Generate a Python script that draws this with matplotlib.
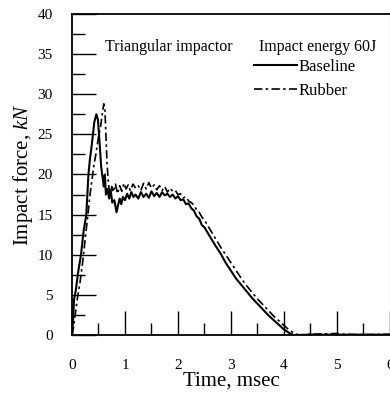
import matplotlib
matplotlib.use("Agg")
import matplotlib.pyplot as plt
from matplotlib.ticker import MultipleLocator

plt.rcParams['font.family'] = ['Liberation Serif', 'DejaVu Serif']
plt.rcParams['mathtext.fontset'] = 'custom'
plt.rcParams['mathtext.rm'] = 'Liberation Serif'
plt.rcParams['mathtext.it'] = 'Liberation Serif:italic'

# Baseline impact force curve (time in msec, force in kN)
t_base = [0, 0.02, 0.04, 0.07, 0.12, 0.17, 0.22, 0.27, 0.31, 0.34, 0.37, 0.42,
          0.46, 0.49, 0.52, 0.55, 0.58, 0.60, 0.62, 0.64, 0.67, 0.70, 0.73, 0.76,
          0.80, 0.84, 0.87, 0.90, 0.93, 0.96, 1.00, 1.04, 1.08, 1.12, 1.16, 1.20,
          1.25, 1.30, 1.35, 1.40, 1.45, 1.50, 1.55, 1.60, 1.65, 1.70, 1.75, 1.80,
          1.85, 1.90, 1.95, 2.00, 2.05, 2.10, 2.15, 2.20, 2.25, 2.30, 2.35, 2.40,
          2.45, 2.50, 2.60, 2.70, 2.80, 2.90, 3.00, 3.10, 3.20, 3.30, 3.40, 3.50,
          3.60, 3.70, 3.80, 3.90, 4.00, 4.10, 4.18, 4.5, 5.0, 5.5, 6.0]
f_base = [0, 2, 4.5, 5.5, 8, 10, 13, 15, 20, 22, 23.5, 26.5,
          27.5, 26.8, 24, 21, 19.5, 18.5, 20, 17.5, 18.2, 17, 18, 16.5,
          16.8, 15.3, 16.2, 17.0, 16.3, 17.2, 16.8, 17.6, 17.0, 17.8, 17.2, 17.5,
          17.0, 17.8, 17.2, 17.6, 17.1, 17.9, 17.3, 17.7, 17.2, 17.8, 17.4, 17.6,
          17.2, 17.5, 17.0, 17.3, 16.8, 16.9, 16.3, 16.4, 15.8, 15.5, 14.8, 14.5,
          13.7, 13.4, 12.3, 11.2, 10.2, 9.0, 8.0, 7.0, 6.2, 5.4, 4.6, 3.9,
          3.2, 2.5, 1.9, 1.3, 0.7, 0.25, 0.0, 0.05, 0.05, 0.05, 0.05]

# Rubber impact force curve
t_rub = [0, 0.03, 0.06, 0.10, 0.15, 0.20, 0.25, 0.30, 0.34, 0.37, 0.41, 0.45,
         0.50, 0.54, 0.57, 0.60, 0.62, 0.64, 0.66, 0.68, 0.70, 0.72, 0.75, 0.78,
         0.82, 0.86, 0.90, 0.94, 0.98, 1.02, 1.06, 1.10, 1.15, 1.20, 1.25, 1.30,
         1.35, 1.40, 1.45, 1.50, 1.55, 1.60, 1.65, 1.70, 1.75, 1.80, 1.85, 1.90,
         1.95, 2.00, 2.05, 2.10, 2.15, 2.20, 2.25, 2.30, 2.35, 2.40, 2.45, 2.50,
         2.60, 2.70, 2.80, 2.90, 3.00, 3.10, 3.20, 3.30, 3.40, 3.50, 3.60, 3.70,
         3.80, 3.90, 4.00, 4.10, 4.20, 4.28, 4.5, 5.0, 5.1, 5.5, 6.0]
f_rub = [0, 1, 2.5, 4.5, 6.5, 9, 12, 15, 17.5, 19, 21, 22.5,
         24.7, 26, 27.5, 28.8, 28.3, 25, 21.5, 19.5, 18.2, 17.3, 18.5, 17.8,
         18.8, 17.6, 18.6, 17.9, 18.9, 18.2, 18.7, 18.0, 18.8, 18.3, 18.6, 18.0,
         18.9, 18.2, 19.0, 18.3, 18.7, 18.1, 18.6, 18.0, 18.5, 17.8, 18.3, 17.9,
         18.0, 17.5, 17.6, 17.1, 17.2, 16.7, 16.5, 16.2, 15.6, 15.3, 14.7, 14.3,
         13.2, 12.1, 11.0, 10.0, 9.0, 8.0, 7.0, 6.1, 5.3, 4.5, 3.8, 3.1,
         2.4, 1.8, 1.2, 0.6, 0.2, 0.0, 0.1, 0.2, 0.1, 0.05, 0.1]

fig = plt.figure(figsize=(3.9, 3.97), dpi=100)
ax = fig.add_axes([0.1846, 0.156, 0.8154, 0.809])

ax.plot(t_base, f_base, color='black', lw=1.5, ls='-', label='Baseline')
ax.plot(t_rub, f_rub, color='black', lw=1.2, ls=(0, (5, 2, 1.5, 2)), label='Rubber')

ax.set_xlim(0, 6)
ax.set_ylim(0, 40)
ax.xaxis.set_major_locator(MultipleLocator(1))
ax.xaxis.set_minor_locator(MultipleLocator(0.5))
ax.yaxis.set_major_locator(MultipleLocator(5))
ax.yaxis.set_minor_locator(MultipleLocator(2.5))
ax.tick_params(which='major', direction='in', length=17, width=1.0, labelsize=11)
ax.tick_params(which='minor', direction='in', length=9, width=1.0)
ax.tick_params(axis='x', which='major', pad=17)
ax.tick_params(axis='y', which='major', pad=14)
ax.spines['right'].set_color('0.75')
for s in ['left', 'bottom', 'top']:
    ax.spines[s].set_linewidth(1.3)

ax.set_xlabel('Time, msec', fontsize=15, labelpad=0)
ax.set_ylabel('Impact force, $\\mathit{kN}$', fontsize=15, labelpad=2)

ax.text(0.62, 35.9, 'Triangular impactor', fontsize=11.5, va='center')
ax.text(3.52, 35.9, 'Impact energy 60J', fontsize=11.5, va='center')

ax.legend(loc='upper left', bbox_to_anchor=(0.55, 0.88), frameon=False,
          fontsize=12, handlelength=2.6, handletextpad=0.1, labelspacing=0.45,
          borderaxespad=0)

fig.savefig('out.png', dpi=100)
